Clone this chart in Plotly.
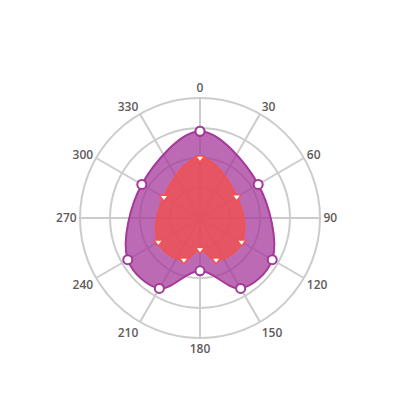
import plotly.graph_objects as go

angle_ticks = [0, 30, 60, 90, 120, 150, 180, 210, 240, 270, 300, 330]

outer_theta = [0, 60, 120, 150, 180, 210, 240, 300]
outer_r = [2.89, 2.24, 2.78, 2.71, 1.76, 2.71, 2.78, 2.24]

inner_theta = [0, 60, 120, 159, 180, 201, 240, 300]
inner_r = [2.0, 1.41, 1.6, 1.5, 1.05, 1.5, 1.6, 1.39]

def closed(a):
    return list(a) + [a[0]]

fig = go.Figure()
fig.add_trace(go.Scatterpolar(
    theta=closed(outer_theta), r=closed(outer_r),
    mode="lines+markers", fill="toself",
    line=dict(color="#a6389a", width=2, shape="spline", smoothing=1),
    fillcolor="rgba(166,56,154,0.75)",
    marker=dict(symbol="circle", size=9, color="white",
                line=dict(color="#a6389a", width=2)),
    showlegend=False,
))
fig.add_trace(go.Scatterpolar(
    theta=closed(inner_theta), r=closed(inner_r),
    mode="lines+markers", fill="toself",
    line=dict(color="#f05252", width=2, shape="spline", smoothing=1.2),
    fillcolor="rgba(240,80,80,0.8)",
    marker=dict(symbol="triangle-down", size=8, color="white",
                line=dict(color="#f05252", width=1.5)),
    showlegend=False,
))

fig.update_layout(
    width=400, height=400,
    margin=dict(l=72, r=88, t=90, b=70),
    paper_bgcolor="white",
    font=dict(family="Open Sans", size=12, color="#5f5a5a", weight=600),
    polar=dict(
        bgcolor="white",
        domain=dict(x=[0, 1], y=[0, 1]),
        radialaxis=dict(range=[0, 4], dtick=1, showticklabels=False, ticks="",
                        gridcolor="#cccccc", gridwidth=2, showline=False),
        angularaxis=dict(rotation=90, direction="clockwise",
                         tickvals=angle_ticks, ticktext=[str(a) for a in angle_ticks],
                         ticks="", gridcolor="#cccccc", gridwidth=2,
                         linecolor="#cccccc", linewidth=2),
    ),
)
fig.write_html("out.html")
